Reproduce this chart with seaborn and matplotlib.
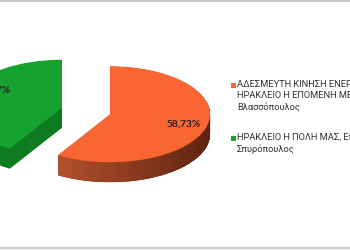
import numpy as np
import pandas as pd
import seaborn as sns
import matplotlib
matplotlib.use("Agg")
import matplotlib.pyplot as plt
from matplotlib.lines import Line2D
from matplotlib.patches import Rectangle
from matplotlib.colors import LinearSegmentedColormap

# ---- data ----
party_lines = [
    ["ΑΔΕΣΜΕΥΤΗ ΚΙΝΗΣΗ ΕΝΕΡΓΩΝ ΠΟΛΙΤΩΝ", "ΗΡΑΚΛΕΙΟ Η ΕΠΟΜΕΝΗ ΜΕΡΑ,", "Βλασσόπουλος"],
    ["ΗΡΑΚΛΕΙΟ Η ΠΟΛΗ ΜΑΣ, Επαμεινώνδας", "Σπυρόπουλος"],
]
shares = [58.73, 41.27]
top_colors = ["#FA6632", "#16A22E"]
side_colors = ["#8C3A1D", "#0F7B20"]

sns.set_theme(style="white")
plt.rcParams["font.family"] = ["Lato", "DejaVu Sans"]

W, H = 350, 250
fig = plt.figure(figsize=(W / 100, H / 100), dpi=100)
ax = fig.add_axes([0, 0, 1, 1])

k = 0.48           # vertical squash of the pie (tilt)
R = 100            # radius in px
cx, cy_img = 86, 111
cy = (H - cy_img) / k
depth = 20 / k
explode = [0.25 * R, 0.25 * R]

side_cmap = LinearSegmentedColormap.from_list("side", ["#CF5F33", "#5E2412"])
grad = np.linspace(0, 1, 256).reshape(1, -1)

n = 40
for i in range(n, 0, -1):
    d = depth * i / n
    wedges, _ = ax.pie(shares, explode=explode, startangle=90, counterclock=False,
                       radius=R, center=(cx, cy - d), colors=side_colors,
                       wedgeprops=dict(linewidth=0, zorder=1))
    w = wedges[0]
    im = ax.imshow(grad, cmap=side_cmap, aspect="auto", zorder=1.5,
                   extent=(w.center[0] - w.r, w.center[0] + w.r,
                           w.center[1] - w.r, w.center[1] + w.r))
    im.set_clip_path(w)

wedges, texts, autotexts = ax.pie(
    shares, explode=explode, startangle=90, counterclock=False, radius=R,
    center=(cx, cy), colors=top_colors,
    autopct=lambda p: f"{p:.2f}%".replace(".", ","), pctdistance=0.76,
    wedgeprops=dict(linewidth=0, zorder=2),
    textprops=dict(fontsize=7.3, fontweight="bold", color="#222222", zorder=3))
# nudge the green label a little up/right, as in the reference
gx, gy = autotexts[1].get_position()
autotexts[1].set_position((gx + 5, gy + 8 / k))

ax.set_aspect("auto")
ax.set_xlim(0, W)
ax.set_ylim(0, H / k)
ax.axis("off")

# ---- legend ----
leg_x = 231
leg_y = [85, 138]
for lines, col, y in zip(party_lines, top_colors, leg_y):
    fig.add_artist(Rectangle((leg_x / W, 1 - (y + 2.5) / H), 5 / W, 5 / H,
                             transform=fig.transFigure, color=col, lw=0))
    fig.text((leg_x + 6) / W, 1 - (y - 5.5) / H, "\n".join(lines), ha="left", va="top",
             fontsize=6.7, color="#333333", linespacing=1.38, family="Roboto")

# ---- frame lines ----
for yy in [1.0, 248.0]:
    fig.add_artist(Line2D([0, 1], [1 - yy / H] * 2, transform=fig.transFigure,
                          color="#C8C8C8", lw=1.6))

fig.savefig("out.png", dpi=100, facecolor="white")
